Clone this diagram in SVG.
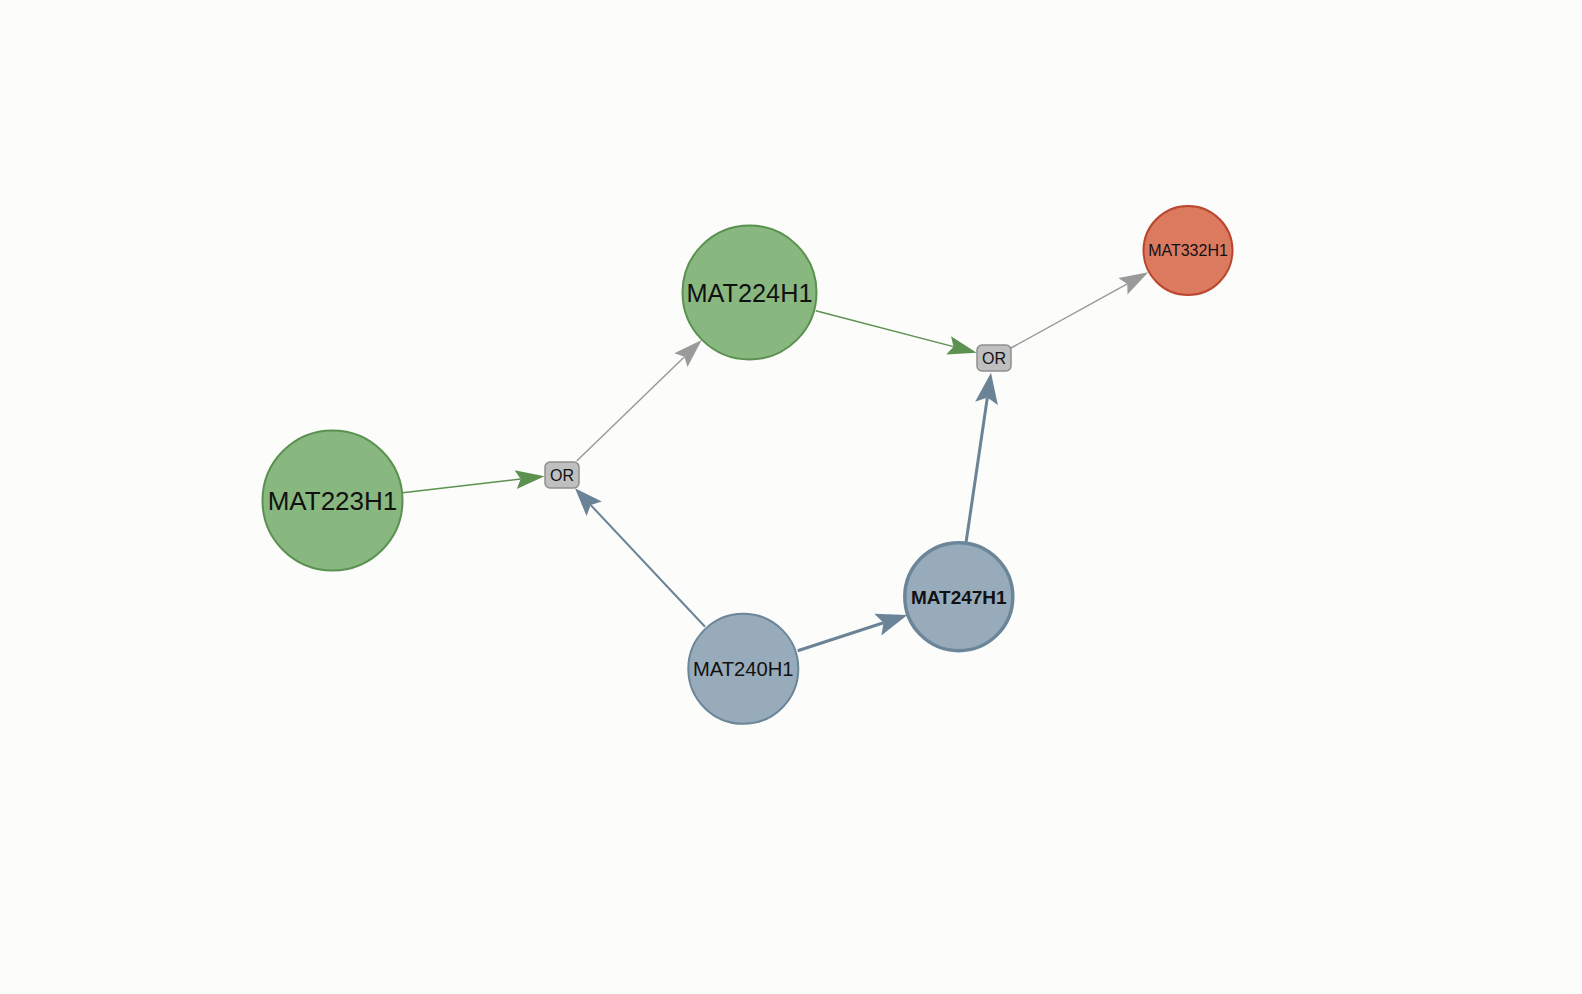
<svg xmlns="http://www.w3.org/2000/svg" width="1582" height="994" viewBox="0 0 1582 994">
  <style>
    text { font-family: "Liberation Sans", Arial, sans-serif; fill: #111; text-anchor: middle; }
    .green { fill: #88b880; stroke: #5b9150; stroke-width: 2; }
    .blue { fill: #98abbb; stroke: #6b8699; stroke-width: 2; }
    .blue-bold { fill: #98abbb; stroke: #6b8699; stroke-width: 3.5; }
    .red { fill: #dc7a60; stroke: #b9472f; stroke-width: 2; }
    .or { fill: #bfbfbf; stroke: #8e8e8e; stroke-width: 1.5; }
    .e-green { stroke: #5c9150; stroke-width: 1.5; fill: none; }
    .e-gray { stroke: #9a9a9a; stroke-width: 1.5; fill: none; }
    .e-blue { stroke: #6b8396; stroke-width: 2; fill: none; }
    .e-blue-thick { stroke: #6b8396; stroke-width: 3; fill: none; }
  </style>
  <defs>
    <marker id="ah-green" markerUnits="userSpaceOnUse" orient="auto" markerWidth="32" markerHeight="22" viewBox="0 -11 32 22" refX="5" refY="0">
      <path d="M0,-9.5 L29,0 L0,9.5 L5,0 Z" fill="#5c9150"/>
    </marker>
    <marker id="ah-gray" markerUnits="userSpaceOnUse" orient="auto" markerWidth="32" markerHeight="22" viewBox="0 -11 32 22" refX="5" refY="0">
      <path d="M0,-9.5 L29,0 L0,9.5 L5,0 Z" fill="#9a9a9a"/>
    </marker>
    <marker id="ah-blue" markerUnits="userSpaceOnUse" orient="auto" markerWidth="32" markerHeight="24" viewBox="0 -12 32 24" refX="5" refY="0">
      <path d="M0,-10.5 L28,0 L0,10.5 L5,0 Z" fill="#6b8396"/>
    </marker>
    <marker id="ah-blue-thick" markerUnits="userSpaceOnUse" orient="auto" markerWidth="34" markerHeight="26" viewBox="0 -13 34 26" refX="6" refY="0">
      <path d="M0,-11.5 L31,0 L0,11.5 L6,0 Z" fill="#6b8396"/>
    </marker>
  </defs>
  <rect x="0" y="0" width="1582" height="994" fill="#fcfcfa"/>

  <g id="connectors">
    <path class="e-green" d="M402.7,492.7 L520.65,479.06" marker-end="url(#ah-green)"/>
    <path class="e-gray" d="M576.7,461 L684.46,356.68" marker-end="url(#ah-gray)"/>
    <path class="e-green" d="M815.7,310.7 L953.49,346.64" marker-end="url(#ah-green)"/>
    <path class="e-gray" d="M1011,348 L1127.28,283.89" marker-end="url(#ah-gray)"/>
    <path class="e-blue" d="M705,626.7 L590.75,505.06" marker-end="url(#ah-blue)"/>
    <path class="e-blue-thick" d="M797.7,650.7 L883.54,622.74" marker-end="url(#ah-blue-thick)"/>
    <path class="e-blue-thick" d="M966,542.7 L987.36,397.44" marker-end="url(#ah-blue-thick)"/>
  </g>

  <g id="node-MAT223H1">
    <circle class="green" cx="332.5" cy="500.5" r="70"/>
    <text x="332.5" y="509.8" font-size="26">MAT223H1</text>
  </g>
  <g id="node-MAT224H1">
    <circle class="green" cx="749.5" cy="292.5" r="67"/>
    <text x="749.5" y="301.5" font-size="25.3">MAT224H1</text>
  </g>
  <g id="node-MAT332H1">
    <circle class="red" cx="1188" cy="250.5" r="44.5"/>
    <text x="1188" y="256.2" font-size="16">MAT332H1</text>
  </g>
  <g id="node-MAT240H1">
    <circle class="blue" cx="743.3" cy="668.8" r="55"/>
    <text x="743.3" y="676" font-size="20.2">MAT240H1</text>
  </g>
  <g id="node-MAT247H1">
    <circle class="blue-bold" cx="958.8" cy="596.7" r="54"/>
    <text x="958.8" y="603.6" font-size="19" font-weight="bold">MAT247H1</text>
  </g>
  <g id="node-OR1">
    <rect class="or" x="545" y="462" width="34" height="26" rx="5"/>
    <text x="562" y="480.7" font-size="16">OR</text>
  </g>
  <g id="node-OR2">
    <rect class="or" x="977" y="345" width="34" height="26" rx="5"/>
    <text x="994" y="363.7" font-size="16">OR</text>
  </g>
</svg>
